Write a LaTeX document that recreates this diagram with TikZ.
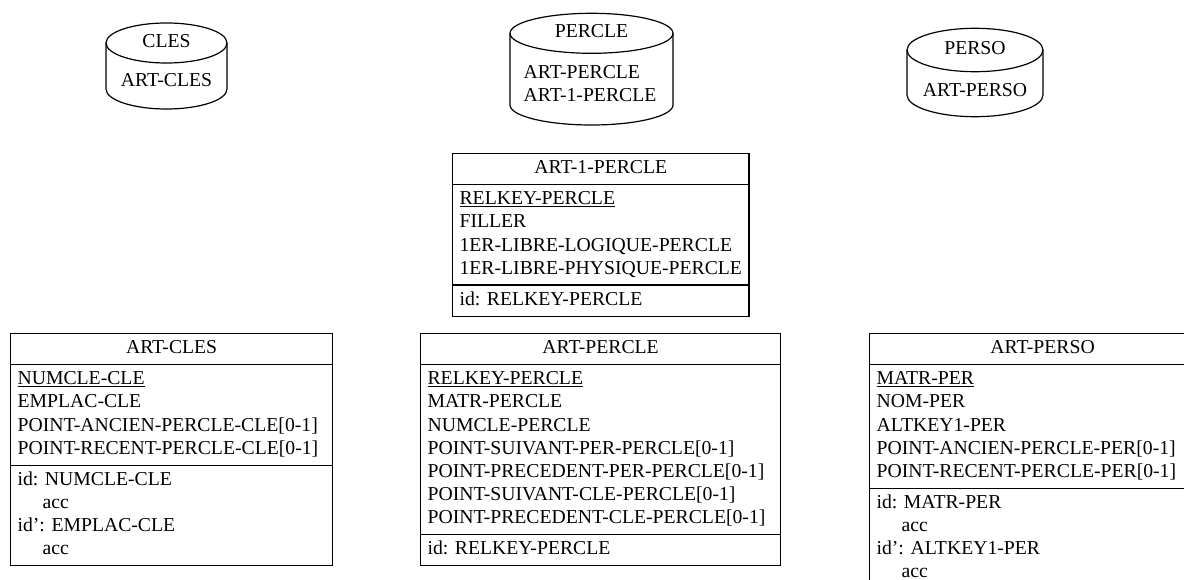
\documentclass[tikz,border=0pt]{standalone}
\usepackage{fontspec}
\setmainfont{Liberation Serif}
\usetikzlibrary{shapes.multipart}

\newcommand{\fld}[1]{\strut#1}
\newcommand{\acc}{\strut\hspace*{25pt}acc}

\begin{document}
\begin{tikzpicture}[
		x=1pt, y=-1pt,
		line width=1.2pt,
		every node/.style={font=\fontsize{19.7}{23.1}\selectfont},
		entity/.style={draw, rectangle split, rectangle split parts=3,
			rectangle split part align={center,left,left}, align=left,
			anchor=north west, inner xsep=7pt, inner ysep=3.4pt}
	]
	\useasboundingbox (0,0) rectangle (1184,580);

	% files
	\foreach \cx/\ct/\cb/\rx/\ry in {166.5/43/89/60.5/20, 591.5/33.3/105/81.5/20, 975/50/95/68/21.7} {
		\draw (\cx,\ct) ellipse [x radius=\rx pt, y radius=\ry pt];
		\draw ({\cx-\rx},\ct) -- ({\cx-\rx},\cb) arc[start angle=180, end angle=360, x radius=\rx pt, y radius=\ry pt] -- ({\cx+\rx},\ct);
	}
	\node (clesfile) at (166.5,41) {CLES};
	\node (clesrec) at (166.5,80) {ART-CLES};
	\node (perclefile) at (591.5,31) {PERCLE};
	\node[align=left] (perclerec) at (590,83.5) {ART-PERCLE\\ART-1-PERCLE};
	\node (persofile) at (975,48) {PERSO};
	\node (persorec) at (975,90) {ART-PERSO};

	% record types
	\node[entity, minimum width=296pt] (art1percle) at (452,153) {\fld{ART-1-PERCLE}
		\nodepart{second}\fld{\underline{RELKEY-PERCLE}}\\\fld{FILLER}\\\fld{1ER-LIBRE-LOGIQUE-PERCLE}\\\fld{1ER-LIBRE-PHYSIQUE-PERCLE}
		\nodepart{third}\fld{id: RELKEY-PERCLE}};

	\node[entity, minimum width=322pt] (artcles) at (10,333) {\fld{ART-CLES}
		\nodepart{second}\fld{\underline{NUMCLE-CLE}}\\\fld{EMPLAC-CLE}\\\fld{POINT-ANCIEN-PERCLE-CLE[0-1]}\\\fld{POINT-RECENT-PERCLE-CLE[0-1]}
		\nodepart{third}\fld{id: NUMCLE-CLE}\\\acc\\\fld{id': EMPLAC-CLE}\\\acc};

	\node[entity, minimum width=360pt] (artpercle) at (420,333) {\fld{ART-PERCLE}
		\nodepart{second}\fld{\underline{RELKEY-PERCLE}}\\\fld{MATR-PERCLE}\\\fld{NUMCLE-PERCLE}\\\fld{POINT-SUIVANT-PER-PERCLE[0-1]}\\\fld{POINT-PRECEDENT-PER-PERCLE[0-1]}\\\fld{POINT-SUIVANT-CLE-PERCLE[0-1]}\\\fld{POINT-PRECEDENT-CLE-PERCLE[0-1]}
		\nodepart{third}\fld{id: RELKEY-PERCLE}};

	\node[entity, minimum width=346pt] (artperso) at (869,333) {\fld{ART-PERSO}
		\nodepart{second}\fld{\underline{MATR-PER}}\\\fld{NOM-PER}\\\fld{ALTKEY1-PER}\\\fld{POINT-ANCIEN-PERCLE-PER[0-1]}\\\fld{POINT-RECENT-PERCLE-PER[0-1]}
		\nodepart{third}\fld{id: MATR-PER}\\\acc\\\fld{id': ALTKEY1-PER}\\\acc};
\end{tikzpicture}
\end{document}
